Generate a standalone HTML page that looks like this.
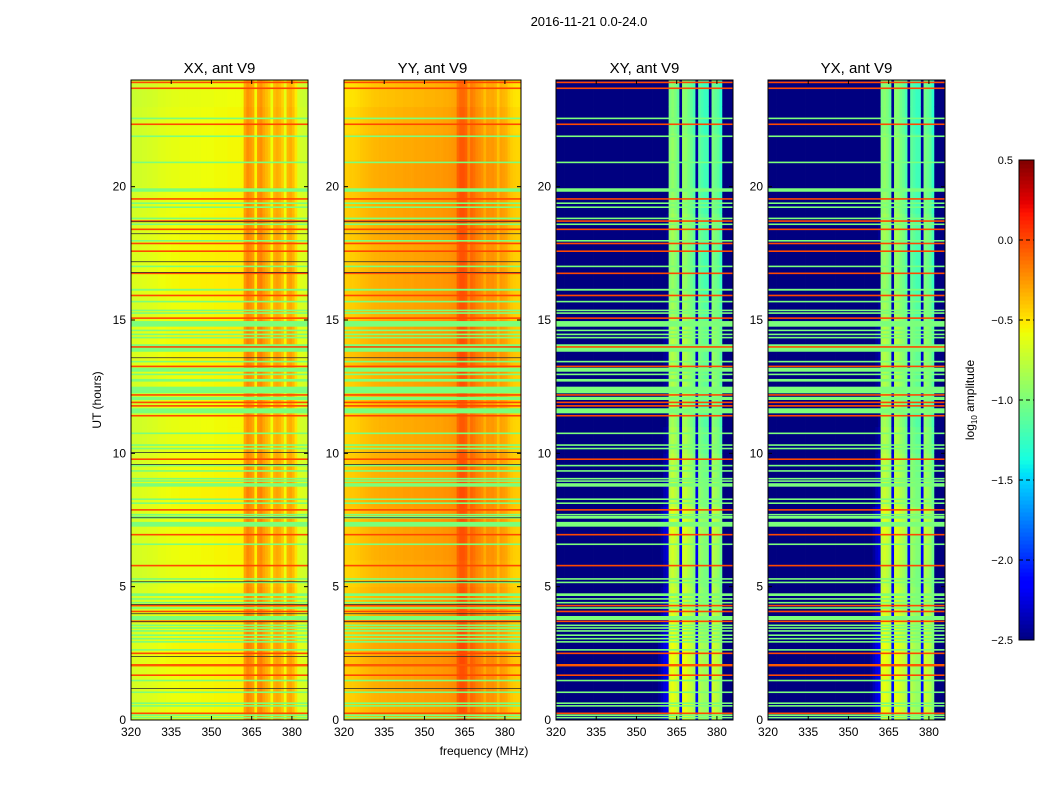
<!DOCTYPE html>
<html><head><meta charset="utf-8"><style>
body{margin:0;background:#fff;font-family:"Liberation Sans",sans-serif;}
svg{display:block}
text{font-family:"Liberation Sans",sans-serif;fill:#000}
</style></head><body>
<svg id="fig" width="1050" height="800">
<text x="589" y="26" font-size="13" text-anchor="middle">2016-11-21 0.0-24.0</text>
<text x="484" y="755" font-size="12" text-anchor="middle">frequency (MHz)</text>
<text x="0" y="0" font-size="12" text-anchor="middle" transform="translate(101,400) rotate(-90)">UT (hours)</text>
<text x="0" y="0" font-size="12" text-anchor="middle" transform="translate(974,400) rotate(-90)">log<tspan font-size="8" dy="3">10</tspan><tspan dy="-3"> amplitude</tspan></text>
<g id="plots"></g>
</svg>
<script>
// ---- data ----
const freqStart = 320, freqEnd = 386;
const timeStart = 0, timeEnd = 24;
const xTicks = [320, 335, 350, 365, 380];
const yTicks = [0, 5, 10, 15, 20];
const cbTicks = [0.5, 0.0, -0.5, -1.0, -1.5, -2.0, -2.5];
const cbTickLabels = ["0.5", "0.0", "\u22120.5", "\u22121.0", "\u22121.5", "\u22122.0", "\u22122.5"];
const panelTitles = ["XX, ant V9", "YY, ant V9", "XY, ant V9", "YX, ant V9"];
const colXX = [-0.70,-0.70,-0.69,-0.69,-0.68,-0.68,-0.67,-0.67,-0.66,-0.66,-0.64,-0.63,-0.63,-0.62,-0.62,-0.61,-0.61,-0.61,-0.60,-0.60,-0.60,-0.60,-0.59,-0.59,-0.59,-0.59,-0.58,-0.58,-0.58,-0.58,-0.58,-0.57,-0.57,-0.57,-0.57,-0.57,-0.56,-0.56,-0.56,-0.56,-0.56,-0.55,-0.30,-0.22,-0.25,-0.30,-0.55,-0.25,-0.22,-0.30,-0.35,-0.40,-0.58,-0.35,-0.32,-0.35,-0.42,-0.60,-0.35,-0.32,-0.38,-0.50,-0.66,-0.68,-0.70,-0.70];
const colYY = [-0.45,-0.45,-0.44,-0.44,-0.43,-0.42,-0.40,-0.39,-0.38,-0.37,-0.36,-0.35,-0.35,-0.34,-0.34,-0.34,-0.33,-0.33,-0.33,-0.32,-0.32,-0.32,-0.31,-0.31,-0.31,-0.31,-0.30,-0.30,-0.30,-0.30,-0.29,-0.29,-0.29,-0.29,-0.28,-0.28,-0.28,-0.27,-0.27,-0.26,-0.25,-0.24,-0.10,-0.05,-0.05,-0.08,-0.22,-0.12,-0.15,-0.20,-0.22,-0.25,-0.33,-0.25,-0.26,-0.25,-0.28,-0.38,-0.28,-0.30,-0.32,-0.38,-0.42,-0.44,-0.45,-0.45];
const colXY = [-2.75,-2.75,-2.75,-2.75,-2.75,-2.75,-2.75,-2.75,-2.75,-2.75,-2.75,-2.75,-2.75,-2.75,-2.75,-2.75,-2.75,-2.75,-2.75,-2.75,-2.75,-2.75,-2.75,-2.75,-2.75,-2.75,-2.75,-2.75,-2.75,-2.75,-2.75,-2.75,-2.75,-2.75,-2.75,-2.75,-2.75,-2.72,-2.65,-2.55,-2.45,-2.40,-0.85,-0.80,-0.85,-0.95,-2.30,-0.80,-0.82,-0.90,-0.95,-1.05,-2.30,-1.00,-1.05,-1.10,-1.10,-2.30,-0.90,-0.95,-1.00,-1.15,-2.75,-2.75,-2.75,-2.75];
const colYX = [-2.75,-2.75,-2.75,-2.75,-2.75,-2.75,-2.75,-2.75,-2.75,-2.75,-2.75,-2.75,-2.75,-2.75,-2.75,-2.75,-2.75,-2.75,-2.75,-2.75,-2.75,-2.75,-2.75,-2.75,-2.75,-2.75,-2.75,-2.75,-2.75,-2.75,-2.75,-2.75,-2.75,-2.75,-2.75,-2.75,-2.75,-2.72,-2.65,-2.55,-2.45,-2.40,-0.85,-0.80,-0.85,-0.95,-2.30,-0.80,-0.82,-0.90,-0.95,-1.05,-2.30,-1.00,-1.05,-1.10,-1.10,-2.30,-0.90,-0.95,-1.00,-1.15,-2.75,-2.75,-2.75,-2.75];
const hourXX = [0.02,0.03,0.05,0.03,0.02,0.0,0.02,0.03,0.04,0.02,0.0,0.0,0.02,0.05,0.05,0.02,0.05,0.04,0.03,0.02,0.0,0.0,0.0,-0.02];
const hourYY = [0.02,0.03,0.05,0.03,0.02,0.0,0.02,0.03,0.04,0.02,0.0,0.0,0.02,0.05,0.03,0.02,0.03,0.02,0.03,0.03,0.03,0.0,-0.02,-0.05];
const hourXY = [0.20,0.20,0.22,0.18,0.12,0.08,0.12,0.18,0.08,0.05,0.00,-0.05,0.00,0.00,0.02,-0.05,-0.10,-0.10,-0.05,-0.10,-0.12,-0.10,-0.15,-0.15];
const hourYX = [0.20,0.20,0.22,0.18,0.12,0.08,0.12,0.18,0.08,0.05,0.00,-0.05,0.00,0.00,0.02,-0.05,-0.10,-0.10,-0.05,-0.10,-0.12,-0.10,-0.15,-0.15];
const flagStart = [23.88,23.66,22.53,22.31,21.86,20.88,19.81,19.51,19.35,19.20,18.78,18.68,18.56,18.37,17.94,17.84,17.55,16.98,16.72,16.10,15.89,15.66,15.33,15.23,15.04,14.75,14.58,14.43,14.31,13.81,13.96,13.41,13.23,13.06,12.93,12.69,12.25,12.16,12.00,11.88,11.75,11.50,11.38,10.72,10.28,10.15,9.75,9.51,9.31,9.02,8.93,8.75,8.25,8.10,7.85,7.67,7.55,7.25,6.92,6.56,5.76,5.26,5.13,4.65,4.51,4.37,4.26,4.17,4.04,3.75,3.67,3.52,3.42,3.31,3.15,3.02,2.90,2.60,2.47,2.01,1.65,1.45,1.01,0.60,0.50,0.22,0.15,0.06];
const flagEnd   = [23.94,23.72,22.59,22.37,21.92,20.94,19.94,19.57,19.41,19.26,18.84,18.74,18.62,18.43,18.00,17.90,17.61,17.04,16.78,16.17,15.95,15.72,15.39,15.29,15.10,14.96,14.64,14.49,14.37,14.09,14.02,13.47,13.29,13.21,12.99,12.79,12.50,12.22,12.12,11.94,11.81,11.69,11.44,10.78,10.34,10.21,9.81,9.57,9.37,9.08,8.99,8.88,8.31,8.16,7.91,7.73,7.65,7.43,6.98,6.62,5.82,5.32,5.19,4.75,4.57,4.43,4.32,4.23,4.10,3.90,3.73,3.58,3.48,3.37,3.21,3.08,2.96,2.66,2.53,2.10,1.71,1.51,1.07,0.66,0.56,0.28,0.21,0.12];
const flagValue = [0.0,0.0,-1.0,0.0,-1.0,-1.0,-1.0,0.0,-1.0,-1.0,-1.0,0.0,-1.0,0.0,-1.0,0.0,0.0,-1.0,0.0,-1.0,0.0,-1.0,-1.0,-1.0,0.0,-1.0,-1.0,-1.0,-1.0,-1.0,0.0,-1.0,0.0,-1.0,-1.0,-1.0,-1.0,0.0,-1.0,0.0,0.0,-1.0,0.0,-1.0,-1.0,-1.0,0.0,-1.0,-1.0,-1.0,-1.0,-1.0,-1.0,-1.0,0.0,-1.0,-1.0,-1.0,0.0,-1.0,0.0,-1.0,-1.0,-1.0,-1.0,-1.0,0.0,-1.0,0.0,-1.0,0.0,-1.0,-1.0,-1.0,-1.0,-1.0,-1.0,-1.0,0.0,-0.05,0.0,-1.0,-1.0,-1.0,-1.0,0.0,-1.0,-1.0];
const darkHours = [18.7,18.25,17.2,16.8,13.6,10.05,9.6,7.6,5.2,4.35,4.0,3.7,2.4,1.2];

// ---- layout / scales ----
const panelX = [131, 344, 556, 768], panelW = 177, plotTop = 80, plotBottom = 720;
const cbX = 1019, cbW = 15, cbTop = 160, cbBot = 640, vmin = -2.5, vmax = 0.5;
function xScale(p, f){ return panelX[p] + (f - freqStart) / (freqEnd - freqStart) * panelW; }
function yScale(h){ return plotBottom - (h - timeStart) / (timeEnd - timeStart) * (plotBottom - plotTop); }
function cbScale(v){ return cbBot - (v - vmin) / (vmax - vmin) * (cbBot - cbTop); }
function interp(t, pts){ for(let i=1;i<pts.length;i++){ if(t<=pts[i][0]){ const a=pts[i-1],b=pts[i]; return a[1]+(b[1]-a[1])*(t-a[0])/(b[0]-a[0]); } } return pts[pts.length-1][1]; }
function jet(v){
  let t = Math.max(0, Math.min(1, (v - vmin) / (vmax - vmin)));
  const r = interp(t, [[0,0],[0.35,0],[0.66,1],[0.89,1],[1,0.5]]);
  const g = interp(t, [[0,0],[0.125,0],[0.375,1],[0.64,1],[0.91,0],[1,0]]);
  const b = interp(t, [[0,0.5],[0.11,1],[0.34,1],[0.65,0],[1,0]]);
  return `rgb(${Math.round(r*255)},${Math.round(g*255)},${Math.round(b*255)})`;
}
const NS = "http://www.w3.org/2000/svg";
const root = document.getElementById('plots');
function mk(tag, attrs, parent){ const e=document.createElementNS(NS,tag); for(const k in attrs) e.setAttribute(k,attrs[k]); (parent||root).appendChild(e); return e; }

const cols = [colXX, colYY, colXY, colYX];
const hours = [hourXX, hourYY, hourXY, hourYX];
const nFlags = Math.min(flagStart.length, flagEnd.length, flagValue.length);
for (let p = 0; p < 4; p++) {
  const g = mk('g', {});
  
  
  for (let c = 0; c < cols[p].length; c++) {
    for (let h = 0; h < hours[p].length; h++) {
      const x0 = xScale(p, freqStart + c), x1 = xScale(p, freqStart + c + 1);
      const y0 = yScale(h + 1), y1 = yScale(h);
      const r = mk('rect', {x: x0.toFixed(2), y: y0.toFixed(2), width: (x1 - x0 + 0.4).toFixed(2), height: (y1 - y0 + 0.4).toFixed(2), fill: jet(cols[p][c] + hours[p][h])}, g);
      
      
    }
  }
  for (let i = 0; i < nFlags; i++) {
    const y0 = yScale(flagEnd[i]), y1 = yScale(flagStart[i]);
    const r = mk('rect', {x: panelX[p], y: y0.toFixed(2), width: panelW, height: Math.max(1.2, y1 - y0).toFixed(2), fill: jet(flagValue[i])}, g);
    
    
  }
  if (p < 2) {
    for (let i = 0; i < darkHours.length; i++) {
      const r = mk('rect', {x: panelX[p], y: yScale(darkHours[i]).toFixed(2), width: panelW, height: 0.8, fill: '#333'}, g);
      
      
    }
  }
  const fr = mk('rect', {x: panelX[p], y: plotTop, width: panelW, height: plotBottom - plotTop, fill: 'none', stroke: '#000', 'stroke-width': 1});
  
  
  const tt = mk('text', {x: panelX[p] + panelW / 2, y: 73, 'font-size': 15, 'text-anchor': 'middle'});
  tt.textContent = panelTitles[p];
  
  
  for (let i = 0; i < xTicks.length; i++) {
    const x = xScale(p, xTicks[i]);
    mk('line', {x1: x, x2: x, y1: plotBottom, y2: plotBottom - 4, stroke: '#000'});
    mk('line', {x1: x, x2: x, y1: plotTop, y2: plotTop + 4, stroke: '#000'});
    const t = mk('text', {x: x, y: plotBottom + 16, 'font-size': 12, 'text-anchor': 'middle'});
    t.textContent = xTicks[i];
    
    
  }
  for (let i = 0; i < yTicks.length; i++) {
    const y = yScale(yTicks[i]);
    mk('line', {x1: panelX[p], x2: panelX[p] + 4, y1: y, y2: y, stroke: '#000'});
    mk('line', {x1: panelX[p] + panelW, x2: panelX[p] + panelW - 4, y1: y, y2: y, stroke: '#000'});
    const t = mk('text', {x: panelX[p] - 5, y: y + 4, 'font-size': 12, 'text-anchor': 'end'});
    t.textContent = yTicks[i];
    
    
  }
}
const cb = mk('g', {});


for (let i = 0; i < 120; i++) {
  const v0 = vmin + (vmax - vmin) * i / 120, v1 = vmin + (vmax - vmin) * (i + 1) / 120;
  mk('rect', {x: cbX, y: cbScale(v1).toFixed(2), width: cbW, height: (cbScale(v0) - cbScale(v1) + 0.5).toFixed(2), fill: jet((v0 + v1) / 2)}, cb);
}
mk('rect', {x: cbX, y: cbTop, width: cbW, height: cbBot - cbTop, fill: 'none', stroke: '#000'}, cb);
for (let i = 0; i < cbTicks.length; i++) {
  const y = cbScale(cbTicks[i]);
  mk('line', {x1: cbX, x2: cbX + cbW, y1: y, y2: y, stroke: '#000', 'stroke-dasharray': '4,3'}, cb);
  const t = mk('text', {x: cbX - 6, y: y + 4, 'font-size': 11, 'text-anchor': 'end'}, cb);
  t.textContent = cbTickLabels[i];
  
  
}
</script>
</body></html>
